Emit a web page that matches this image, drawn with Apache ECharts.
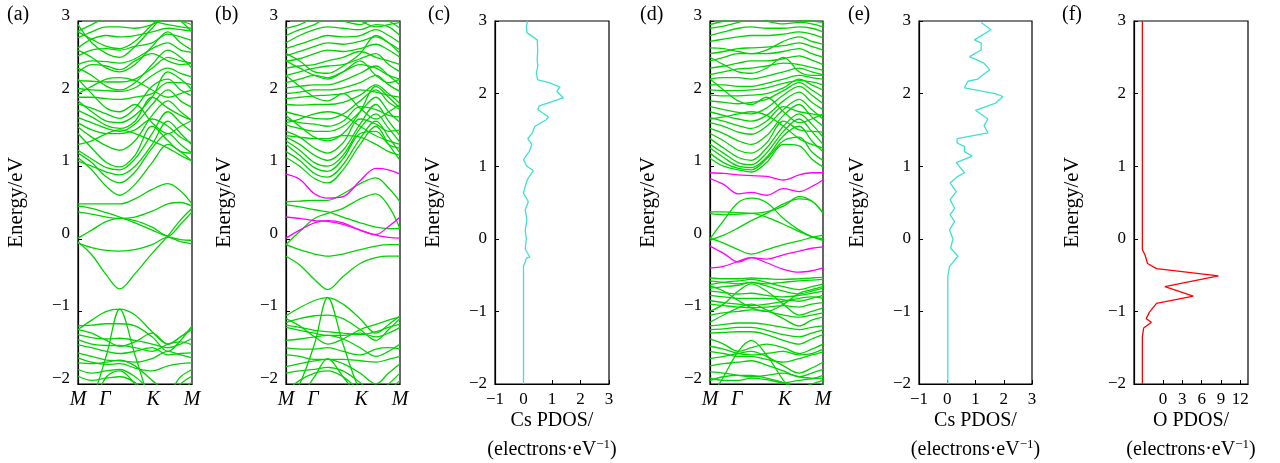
<!DOCTYPE html>
<html>
<head>
<meta charset="utf-8">
<script src="https://cdn.jsdelivr.net/npm/echarts@6/dist/echarts.min.js"></script>
<style>
html, body { margin: 0; padding: 0; background: #fff; }
#chart { width: 1280px; height: 463px; }
</style>
</head>
<body>
<div id="chart"></div>
<script>
// k-path sample points (fraction of M-Gamma-K-M path)
var kPts = [0, 0.12, 0.25, 0.366, 0.5, 0.65, 0.789, 0.9, 1];
var kLabelPos = [0, 0.237, 0.66, 1];
var kLabelTxt = ['M', 'Γ', 'K', 'M'];

// panel (a) bands, eV
var bandsA = [
  [-0.04, -0.22, -0.50, -0.69, -0.48, -0.20, 0.04, 0.26, 0.42],
  [0.48, 0.48, 0.48, 0.48, 0.55, 0.68, 0.76, 0.66, 0.48],
  [0.45, 0.42, 0.36, 0.30, 0.22, 0.12, 0.03, -0.01, -0.02],
  [0.37, 0.34, 0.30, 0.28, 0.30, 0.38, 0.48, 0.50, 0.45],
  [0.01, 0.12, 0.24, 0.28, 0.25, 0.16, 0.04, 0.20, 0.37],
  [-0.06, -0.12, -0.16, -0.17, -0.15, -0.08, 0.02, -0.04, -0.07],
  [1.12, 0.95, 0.72, 0.60, 0.75, 1.05, 1.30, 1.20, 1.07],
  [1.18, 1.05, 0.85, 0.77, 0.92, 1.25, 1.45, 1.30, 1.18],
  [1.07, 1.00, 0.92, 0.88, 1.00, 1.30, 1.62, 1.45, 1.29],
  [1.22, 1.10, 0.98, 0.95, 1.10, 1.45, 1.75, 1.60, 1.47],
  [1.45, 1.25, 1.05, 0.99, 1.15, 1.55, 1.35, 1.20, 1.18],
  [1.54, 1.40, 1.28, 1.22, 1.35, 1.70, 1.90, 1.75, 1.63],
  [1.67, 1.60, 1.52, 1.48, 1.58, 1.85, 2.05, 1.90, 1.81],
  [1.77, 1.68, 1.56, 1.52, 1.62, 1.95, 1.80, 1.70, 1.63],
  [1.86, 1.80, 1.72, 1.66, 1.80, 2.10, 2.20, 2.05, 1.97],
  [1.95, 1.95, 1.93, 1.92, 1.95, 2.00, 2.15, 2.15, 2.12],
  [2.07, 2.05, 2.04, 2.03, 2.08, 2.25, 2.35, 2.28, 2.23],
  [2.18, 2.17, 2.16, 2.16, 2.20, 2.35, 2.50, 2.45, 2.42],
  [2.29, 2.40, 2.38, 2.33, 2.45, 2.55, 2.45, 2.40, 2.42],
  [2.40, 2.45, 2.44, 2.42, 2.48, 2.62, 2.70, 2.60, 2.57],
  [2.52, 2.60, 2.62, 2.60, 2.65, 2.70, 2.82, 2.78, 2.73],
  [2.63, 2.75, 2.80, 2.78, 2.80, 2.85, 2.90, 2.88, 2.86],
  [2.77, 2.85, 2.92, 2.92, 2.90, 2.95, 3.05, 3.00, 2.95],
  [2.86, 2.95, 3.05, 3.10, 3.05, 3.00, 2.95, 2.92, 2.90],
  [2.95, 2.70, 2.55, 2.50, 2.65, 2.90, 3.10, 3.10, 3.05],
  [2.20, 2.00, 1.80, 1.75, 1.85, 1.60, 1.45, 1.55, 1.63],
  [1.30, 1.35, 1.45, 1.50, 1.45, 1.35, 1.25, 1.15, 1.07],
  [1.90, 1.75, 1.62, 1.60, 1.70, 1.95, 2.30, 2.20, 2.05],
  [2.35, 2.25, 2.10, 2.05, 2.15, 2.40, 2.60, 2.50, 2.35],
  [2.60, 2.50, 2.35, 2.30, 2.40, 2.65, 2.85, 2.70, 2.60],
  [2.85, 2.75, 2.65, 2.62, 2.72, 2.95, 3.10, 3.00, 2.85],
  [1.60, 1.50, 1.45, 1.45, 1.50, 1.65, 1.55, 1.40, 1.32],
  [2.00, 2.10, 2.20, 2.22, 2.18, 2.05, 1.95, 2.00, 2.05],
  [-1.25, -1.12, -1.00, -0.97, -1.05, -1.28, -1.45, -1.35, -1.25],
  [-2.40, -2.20, -1.60, -0.97, -1.60, -2.30, -2.60, -2.40, -2.30],
  [-1.20, -1.19, -1.17, -1.17, -1.20, -1.35, -1.55, -1.40, -1.20],
  [-1.32, -1.36, -1.38, -1.37, -1.40, -1.45, -1.50, -1.45, -1.37],
  [-1.39, -1.45, -1.47, -1.47, -1.50, -1.55, -1.45, -1.42, -1.46],
  [-1.46, -1.50, -1.55, -1.58, -1.55, -1.50, -1.60, -1.58, -1.57],
  [-1.57, -1.62, -1.67, -1.68, -1.70, -1.65, -1.55, -1.60, -1.64],
  [-1.64, -1.70, -1.73, -1.72, -1.78, -1.82, -1.75, -1.72, -1.71],
  [-1.71, -1.72, -1.70, -1.67, -1.75, -1.95, -2.10, -1.90, -1.80],
  [-1.80, -1.85, -1.82, -1.80, -1.90, -2.10, -2.20, -2.00, -1.89],
  [-1.89, -1.95, -1.92, -1.90, -1.98, -2.20, -2.30, -2.10, -1.98],
  [-2.50, -2.30, -1.90, -1.82, -2.00, -2.30, -2.50, -2.40, -2.30],
  [-1.25, -1.30, -1.40, -1.48, -1.42, -1.30, -1.45, -1.35, -1.22]
];

// panel (b) bands
var bandsB = [
  [0.51, 0.52, 0.53, 0.53, 0.62, 0.76, 0.84, 0.70, 0.51],
  [0.47, 0.44, 0.40, 0.37, 0.30, 0.22, 0.16, 0.14, 0.14],
  [-0.08, 0.10, 0.28, 0.35, 0.42, 0.55, 0.62, 0.45, 0.14],
  [-0.08, -0.15, -0.21, -0.24, -0.21, -0.15, -0.10, -0.08, -0.08],
  [-0.24, -0.36, -0.56, -0.70, -0.52, -0.34, -0.26, -0.24, -0.24],
  [1.12, 1.00, 0.83, 0.77, 0.95, 1.30, 1.55, 1.30, 1.08],
  [1.20, 1.08, 0.90, 0.85, 1.02, 1.38, 1.62, 1.40, 1.18],
  [1.30, 1.15, 0.98, 0.93, 1.10, 1.45, 1.48, 1.30, 1.25],
  [1.35, 1.22, 1.05, 1.00, 1.15, 1.52, 1.72, 1.52, 1.33],
  [1.40, 1.30, 1.15, 1.08, 1.22, 1.58, 1.85, 1.62, 1.42],
  [1.48, 1.40, 1.25, 1.18, 1.32, 1.65, 1.58, 1.48, 1.50],
  [1.57, 1.52, 1.48, 1.48, 1.55, 1.75, 1.95, 1.75, 1.60],
  [1.65, 1.60, 1.58, 1.55, 1.62, 1.82, 1.78, 1.70, 1.68],
  [1.75, 1.70, 1.66, 1.65, 1.72, 1.90, 2.05, 1.88, 1.78],
  [1.85, 1.84, 1.85, 1.85, 1.88, 1.98, 2.12, 2.00, 1.86],
  [1.93, 1.95, 1.97, 1.98, 2.00, 2.05, 2.02, 1.98, 1.95],
  [2.00, 2.02, 2.05, 2.05, 2.08, 2.15, 2.25, 2.12, 2.03],
  [2.08, 2.10, 2.12, 2.12, 2.18, 2.28, 2.38, 2.25, 2.12],
  [2.15, 2.20, 2.25, 2.22, 2.30, 2.40, 2.35, 2.25, 2.20],
  [2.25, 2.30, 2.35, 2.38, 2.40, 2.48, 2.55, 2.40, 2.30],
  [2.35, 2.38, 2.40, 2.45, 2.50, 2.58, 2.50, 2.45, 2.40],
  [2.45, 2.48, 2.55, 2.60, 2.58, 2.62, 2.68, 2.60, 2.50],
  [2.52, 2.58, 2.65, 2.70, 2.68, 2.72, 2.78, 2.70, 2.60],
  [2.62, 2.68, 2.75, 2.80, 2.78, 2.80, 2.88, 2.80, 2.70],
  [2.70, 2.80, 2.88, 2.92, 2.90, 2.88, 2.95, 2.92, 2.80],
  [2.80, 2.88, 2.95, 3.05, 3.00, 2.95, 3.05, 3.00, 2.90],
  [2.90, 2.95, 3.05, 3.10, 3.05, 3.00, 2.92, 2.95, 2.98],
  [2.25, 2.10, 1.95, 1.90, 2.00, 1.80, 1.65, 1.75, 1.85],
  [1.60, 1.65, 1.72, 1.75, 1.70, 1.55, 1.42, 1.35, 1.30],
  [2.45, 2.35, 2.25, 2.20, 2.30, 2.45, 2.25, 2.15, 2.20],
  [1.70, 1.55, 1.40, 1.35, 1.45, 1.75, 2.10, 1.95, 1.80],
  [2.55, 2.45, 2.30, 2.28, 2.38, 2.55, 2.80, 2.70, 2.55],
  [1.42, 1.40, 1.38, 1.38, 1.42, 1.40, 1.30, 1.20, 1.15],
  [-1.06, -0.95, -0.85, -0.81, -0.90, -1.10, -1.30, -1.18, -1.06],
  [-2.30, -2.00, -1.45, -0.81, -1.45, -2.10, -2.40, -2.30, -2.20],
  [-1.15, -1.10, -1.06, -1.05, -1.10, -1.25, -1.40, -1.25, -1.10],
  [-1.19, -1.22, -1.26, -1.28, -1.30, -1.32, -1.28, -1.22, -1.18],
  [-1.22, -1.26, -1.30, -1.33, -1.33, -1.30, -1.35, -1.30, -1.22],
  [-1.40, -1.38, -1.35, -1.33, -1.38, -1.50, -1.62, -1.55, -1.45],
  [-1.50, -1.52, -1.52, -1.50, -1.55, -1.60, -1.52, -1.50, -1.52],
  [-1.60, -1.62, -1.66, -1.66, -1.66, -1.68, -1.70, -1.66, -1.62],
  [-1.76, -1.72, -1.68, -1.66, -1.72, -1.85, -2.00, -1.85, -1.72],
  [-1.85, -1.82, -1.80, -1.77, -1.82, -1.98, -2.15, -2.00, -1.85],
  [-2.10, -1.95, -1.85, -1.82, -1.90, -2.10, -2.30, -2.10, -1.95],
  [-2.40, -2.20, -1.90, -1.65, -1.90, -2.20, -2.40, -2.30, -2.20],
  [-1.10, -1.20, -1.35, -1.45, -1.38, -1.25, -1.18, -1.12, -1.08]
];
var magentaB = [
  [0.89, 0.82, 0.62, 0.56, 0.58, 0.80, 0.97, 0.95, 0.89],
  [0.30, 0.28, 0.25, 0.24, 0.20, 0.12, 0.05, 0.02, 0.01],
  [0.01, 0.12, 0.22, 0.25, 0.22, 0.12, 0.06, 0.17, 0.30]
];

// panel (d) bands
var bandsD = [
  [0.37, 0.37, 0.36, 0.35, 0.37, 0.45, 0.58, 0.52, 0.36],
  [0.00, 0.25, 0.50, 0.56, 0.50, 0.28, 0.12, 0.03, -0.02],
  [0.35, 0.33, 0.34, 0.35, 0.30, 0.20, 0.10, 0.03, 0.00],
  [0.01, -0.06, -0.15, -0.21, -0.15, -0.08, -0.03, 0.02, 0.05],
  [-0.02, 0.05, 0.15, 0.25, 0.35, 0.48, 0.55, 0.52, 0.35],
  [1.11, 1.00, 0.95, 0.92, 1.05, 1.30, 1.28, 1.10, 0.99],
  [1.18, 1.05, 0.97, 0.95, 1.10, 1.35, 1.40, 1.20, 1.08],
  [1.25, 1.12, 1.00, 0.98, 1.12, 1.42, 1.55, 1.35, 1.20],
  [1.30, 1.18, 1.05, 1.02, 1.18, 1.48, 1.65, 1.48, 1.30],
  [1.38, 1.25, 1.12, 1.08, 1.25, 1.55, 1.72, 1.58, 1.40],
  [1.45, 1.35, 1.22, 1.18, 1.32, 1.62, 1.50, 1.48, 1.47],
  [1.52, 1.45, 1.35, 1.30, 1.42, 1.70, 1.85, 1.68, 1.55],
  [1.60, 1.55, 1.47, 1.44, 1.55, 1.78, 1.92, 1.78, 1.65],
  [1.67, 1.62, 1.56, 1.52, 1.62, 1.82, 1.75, 1.72, 1.70],
  [1.75, 1.70, 1.65, 1.62, 1.70, 1.90, 2.02, 1.88, 1.78],
  [1.82, 1.78, 1.74, 1.72, 1.80, 1.98, 2.10, 1.98, 1.86],
  [1.90, 1.88, 1.86, 1.88, 1.92, 2.04, 2.15, 2.05, 1.95],
  [1.98, 1.97, 1.97, 1.98, 2.00, 2.08, 2.20, 2.12, 2.05],
  [2.05, 2.04, 2.04, 2.05, 2.08, 2.14, 2.18, 2.16, 2.12],
  [2.12, 2.12, 2.10, 2.10, 2.14, 2.20, 2.25, 2.22, 2.20],
  [2.20, 2.22, 2.22, 2.20, 2.24, 2.30, 2.35, 2.30, 2.26],
  [2.26, 2.30, 2.34, 2.35, 2.38, 2.42, 2.40, 2.36, 2.32],
  [2.35, 2.38, 2.42, 2.45, 2.45, 2.48, 2.52, 2.46, 2.40],
  [2.45, 2.50, 2.55, 2.55, 2.55, 2.58, 2.62, 2.55, 2.50],
  [2.55, 2.58, 2.62, 2.63, 2.64, 2.66, 2.70, 2.65, 2.60],
  [2.63, 2.62, 2.58, 2.55, 2.60, 2.72, 2.78, 2.72, 2.68],
  [2.72, 2.75, 2.78, 2.80, 2.80, 2.82, 2.85, 2.82, 2.77],
  [2.80, 2.85, 2.90, 2.92, 2.90, 2.90, 2.92, 2.90, 2.85],
  [2.90, 2.93, 2.98, 3.05, 3.00, 2.96, 2.98, 2.96, 2.92],
  [2.95, 3.00, 3.05, 3.10, 3.08, 3.05, 3.02, 3.00, 2.98],
  [2.20, 2.05, 1.90, 1.85, 1.95, 1.75, 1.60, 1.65, 1.72],
  [1.65, 1.68, 1.72, 1.75, 1.70, 1.55, 1.38, 1.30, 1.25],
  [2.50, 2.40, 2.30, 2.28, 2.35, 2.50, 2.30, 2.25, 2.25],
  [-0.54, -0.55, -0.55, -0.54, -0.55, -0.56, -0.55, -0.54, -0.53],
  [-0.58, -0.60, -0.62, -0.60, -0.62, -0.60, -0.58, -0.57, -0.56],
  [-0.63, -0.60, -0.58, -0.56, -0.60, -0.66, -0.70, -0.66, -0.62],
  [-0.68, -0.66, -0.64, -0.60, -0.65, -0.72, -0.76, -0.72, -0.68],
  [-0.72, -0.74, -0.76, -0.75, -0.78, -0.80, -0.78, -0.75, -0.72],
  [-0.78, -0.80, -0.82, -0.82, -0.82, -0.84, -0.86, -0.82, -0.78],
  [-0.85, -0.88, -0.90, -0.92, -0.90, -0.86, -0.82, -0.80, -0.82],
  [-0.90, -0.92, -0.94, -0.95, -0.94, -0.92, -0.94, -0.90, -0.88],
  [-1.00, -0.90, -0.72, -0.62, -0.72, -0.90, -1.05, -1.00, -0.95],
  [-1.05, -1.02, -1.00, -0.98, -1.00, -1.05, -1.08, -1.05, -1.02],
  [-1.15, -1.05, -0.95, -0.90, -0.98, -1.10, -1.20, -1.12, -1.08],
  [-1.20, -1.18, -1.16, -1.16, -1.18, -1.22, -1.25, -1.22, -1.20],
  [-1.25, -1.24, -1.22, -1.22, -1.26, -1.32, -1.35, -1.30, -1.25],
  [-1.30, -1.29, -1.28, -1.28, -1.32, -1.40, -1.45, -1.38, -1.32],
  [-1.38, -1.45, -1.55, -1.50, -1.45, -1.50, -1.58, -1.52, -1.45],
  [-1.48, -1.52, -1.58, -1.60, -1.58, -1.55, -1.60, -1.58, -1.52],
  [-1.55, -1.58, -1.62, -1.62, -1.66, -1.70, -1.65, -1.60, -1.56],
  [-1.65, -1.62, -1.58, -1.55, -1.62, -1.75, -1.85, -1.78, -1.70],
  [-1.75, -1.72, -1.70, -1.68, -1.74, -1.82, -1.90, -1.85, -1.80],
  [-1.83, -1.85, -1.88, -1.90, -1.88, -1.85, -1.90, -1.92, -1.88],
  [-1.92, -1.95, -1.95, -1.92, -1.94, -1.98, -1.95, -1.93, -1.92],
  [-2.20, -1.90, -1.55, -1.40, -1.60, -1.95, -2.20, -2.10, -2.00],
  [-1.95, -1.90, -1.88, -1.88, -1.92, -1.98, -2.05, -2.00, -1.95],
  [-0.65, -0.72, -0.85, -0.95, -1.00, -0.90, -0.75, -0.70, -0.66]
];
var magentaD = [
  [0.91, 0.90, 0.88, 0.87, 0.86, 0.81, 0.88, 0.91, 0.91],
  [0.83, 0.75, 0.62, 0.64, 0.60, 0.69, 0.65, 0.72, 0.81],
  [-0.10, -0.20, -0.32, -0.26, -0.33, -0.42, -0.46, -0.44, -0.40],
  [-0.40, -0.38, -0.31, -0.26, -0.28, -0.22, -0.17, -0.13, -0.11]
];

// PDOS curves: energy (eV) and density
var csEnergyC = [-2, -0.37, -0.33, -0.27, -0.25, -0.14, 0.0, 0.12, 0.26, 0.40, 0.51, 0.63, 0.72, 0.82, 0.94, 1.0, 1.09, 1.16, 1.2, 1.3, 1.38, 1.45, 1.55, 1.64, 1.68, 1.78, 1.83, 1.94, 2.03, 2.09, 2.15, 2.19, 2.28, 2.38, 2.47, 2.6, 2.74, 2.84, 2.92, 3.0];
var csDosC =    [0.0, 0.0, 0.05, 0.1, 0.22, 0.06, 0.1, 0.06, 0.12, 0.06, 0.17, 0.0, 0.06, 0.14, 0.34, 0.12, 0.0, 0.12, 0.2, 0.29, 0.15, 0.3, 0.4, 0.8, 0.87, 0.5, 0.55, 1.4, 1.17, 1.28, 0.9, 0.5, 0.45, 0.5, 0.48, 0.5, 0.48, 0.12, 0.1, 0.14];
var csEnergyE = [-2, -0.52, -0.38, -0.24, -0.13, 0.0, 0.12, 0.24, 0.33, 0.42, 0.54, 0.65, 0.77, 0.86, 0.91, 1.05, 1.14, 1.2, 1.27, 1.32, 1.38, 1.46, 1.56, 1.65, 1.77, 1.87, 1.96, 2.0, 2.08, 2.17, 2.2, 2.24, 2.33, 2.42, 2.51, 2.6, 2.7, 2.74, 2.88, 2.98];
var csDosE =    [0.02, 0.02, 0.08, 0.38, 0.12, 0.2, 0.08, 0.26, 0.1, 0.26, 0.1, 0.32, 0.1, 0.38, 0.61, 0.32, 0.88, 0.61, 0.62, 0.35, 0.35, 1.44, 1.3, 1.44, 1.0, 1.71, 1.97, 1.7, 0.61, 0.73, 1.08, 1.2, 1.5, 1.3, 0.79, 1.2, 1.2, 0.96, 1.55, 1.2];
var oEnergy = [-2, -1.35, -1.23, -1.15, -1.1, -1.01, -0.89, -0.79, -0.66, -0.51, -0.41, -0.34, -0.22, -0.15, 0.08, 1.0, 3.0];
var oDos =    [-3.2, -3.2, -3.0, -1.8, -2.6, -2.1, -1.0, 4.7, 0.3, 8.6, -1.0, -2.4, -2.8, -3.2, -3.2, -3.2, -3.2];

var chart = echarts.init(document.getElementById('chart'), null, {renderer: 'canvas'});

var serif = 'Liberation Serif';
var green = '#00d400';
var magenta = '#ff00ff';
var cyan = '#40e0d0';

var boxes = [
  {left: 78, width: 114},
  {left: 286, width: 114},
  {left: 495, width: 114},
  {left: 710, width: 113},
  {left: 919, width: 113},
  {left: 1134, width: 114}
];
var isBand = [true, true, false, true, false, false];

var grids = boxes.map(function (b) {
  return {left: b.left, width: b.width, top: 21, height: 363, show: true,
    outerBoundsMode: 'none', containLabel: false,
    borderColor: '#000', borderWidth: 1.2, backgroundColor: 'transparent'};
});

function minus(v) { return String(v).replace('-', '\u2212'); }

var yAxes = boxes.map(function (b, i) {
  var lab = {fontFamily: serif, fontSize: 17, color: '#000', margin: 8, formatter: minus};
  if (isBand[i]) {
    // band panels print their energy labels a little above the ticks
    lab.formatter = function (v) { return '{v|' + minus(v) + '}'; };
    lab.rich = {v: {fontFamily: serif, fontSize: 17, color: '#000', padding: [0, 0, 11, 0]}};
  }
  return {
    type: 'value', gridIndex: i, min: -2, max: 3, interval: 1,
    name: 'Energy/eV', nameLocation: 'middle', nameRotate: 90, nameGap: 51,
    nameMoveOverlap: false,
    nameTextStyle: {fontFamily: serif, fontSize: 21, color: '#000'},
    axisLine: {show: true, onZero: false, lineStyle: {color: '#000', width: 1.2}},
    axisTick: {show: true, inside: true, length: 4, lineStyle: {color: '#000'}},
    axisLabel: lab,
    splitLine: {show: false}
  };
});

var pdosName = 'PDOS/\n(electrons·eV{sup|\u22121})';
var nameStyle = {fontFamily: serif, fontSize: 20, color: '#000', lineHeight: 29,
  rich: {sup: {fontFamily: serif, fontSize: 13, color: '#000', padding: [0, 0, 10, 0]}}};

var xAxes = boxes.map(function (b, i) {
  var base = {
    type: 'value', gridIndex: i,
    axisLine: {show: true, onZero: false, lineStyle: {color: '#000', width: 1.2}},
    splitLine: {show: false}
  };
  if (isBand[i]) {
    base.min = 0; base.max = 1;
    base.axisTick = {show: false};
    base.axisLabel = {
      customValues: kLabelPos, margin: 6,
      fontFamily: serif, fontStyle: 'italic', fontSize: 20, color: '#000',
      formatter: function (v) {
        var best = 0;
        kLabelPos.forEach(function (p, j) {
          if (Math.abs(p - v) < Math.abs(kLabelPos[best] - v)) best = j;
        });
        return kLabelTxt[best];
      }
    };
  } else if (i === 5) {
    base.min = -4.5; base.max = 13.2;
    base.axisTick = {show: true, inside: true, length: 4, customValues: [0, 3, 6, 9, 12], lineStyle: {color: '#000'}};
    base.axisLabel = {customValues: [0, 3, 6, 9, 12], margin: 7, fontFamily: serif, fontSize: 17, color: '#000'};
    base.name = 'O ' + pdosName;
  } else {
    base.min = -1; base.max = 3; base.interval = 1;
    base.axisTick = {show: true, inside: true, length: 4, lineStyle: {color: '#000'}};
    base.axisLabel = {margin: 7, fontFamily: serif, fontSize: 17, color: '#000', formatter: minus};
    base.name = 'Cs ' + pdosName;
  }
  if (base.name) {
    base.nameLocation = 'middle';
    base.nameGap = 22;
    base.nameMoveOverlap = false;
    base.nameTextStyle = nameStyle;
  }
  return base;
});

var series = [];
function addBands(list, idx, color) {
  list.forEach(function (band) {
    series.push({
      type: 'line', xAxisIndex: idx, yAxisIndex: idx, smooth: 0.35,
      showSymbol: false, symbol: 'none', silent: true, clip: true,
      lineStyle: {color: color, width: 1.3},
      data: kPts.map(function (k, j) { return [k, band[j]]; })
    });
  });
}
addBands(bandsA, 0, green);
addBands(bandsB, 1, green);
addBands(magentaB, 1, magenta);
addBands(bandsD, 3, green);
addBands(magentaD, 3, magenta);

function addDos(energy, dos, idx, color) {
  series.push({
    type: 'line', xAxisIndex: idx, yAxisIndex: idx, showSymbol: false, symbol: 'none',
    silent: true, clip: true, lineStyle: {color: color, width: 1.3},
    data: energy.map(function (e, j) { return [dos[j], e]; })
  });
}
addDos(csEnergyC, csDosC, 2, cyan);
addDos(csEnergyE, csDosE, 4, cyan);
addDos(oEnergy, oDos, 5, '#ff0000');

var panelLabels = ['(a)', '(b)', '(c)', '(d)', '(e)', '(f)'];
var panelX = [7, 215, 428, 640, 848, 1062];
var graphic = panelLabels.map(function (t, i) {
  return {type: 'text', left: panelX[i], top: 5,
    style: {text: t, font: '20px "' + serif + '"', fill: '#000'}};
});

chart.setOption({
  animation: false,
  grid: grids,
  xAxis: xAxes,
  yAxis: yAxes,
  series: series,
  graphic: graphic
});
</script>
</body>
</html>
